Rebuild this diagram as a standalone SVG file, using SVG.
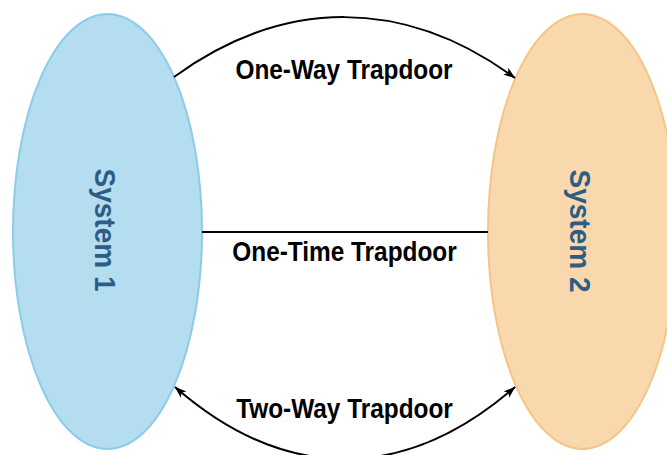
<svg xmlns="http://www.w3.org/2000/svg" width="667" height="455" viewBox="0 0 667 455">
  <style>
    .lbl { font-family: "Liberation Sans", Arial, sans-serif; font-weight: bold; font-size: 24.4px; fill: #000; text-anchor: middle; }
    .sys { font-family: "Liberation Sans", Arial, sans-serif; font-weight: bold; font-size: 28px; fill: #2c5d86; text-anchor: middle; }
    .edge { fill: none; stroke: #000; stroke-width: 2; }
  </style>
  <defs>
    <marker id="arrow" markerUnits="userSpaceOnUse" viewBox="0 0 12 10" markerWidth="12" markerHeight="10" refX="11.5" refY="5" orient="auto-start-reverse">
      <path d="M0,0.8 L12,5 L0,9.2 L3,5 Z" fill="#000"/>
    </marker>
  </defs>
  <rect width="667" height="455" fill="#fff"/>
  <g id="system1">
    <ellipse cx="107.5" cy="231.5" rx="94.5" ry="217.5" fill="#b5ddf0" stroke="#8ccbea" stroke-width="2"/>
    <text class="sys" transform="translate(95,230) rotate(90) scale(1,1.08)">System 1</text>
  </g>
  <g id="system2">
    <ellipse cx="582.5" cy="231.5" rx="94.5" ry="217.5" fill="#f9d8ae" stroke="#f5c585" stroke-width="2"/>
    <text class="sys" transform="translate(570,231) rotate(90) scale(1,1.08)">System 2</text>
  </g>
  <g id="connectors">
    <path class="edge" d="M174,77 C284,-3 405,-3 515,78" marker-end="url(#arrow)"/>
    <path class="edge" d="M202,232 L488,232"/>
    <path class="edge" d="M175,387 C285,483 405,483 515,387" marker-start="url(#arrow)" marker-end="url(#arrow)"/>
  </g>
  <g id="labels">
    <text class="lbl" transform="translate(344,79) scale(1,1.1)">One-Way Trapdoor</text>
    <text class="lbl" transform="translate(344.5,261) scale(1,1.1)">One-Time Trapdoor</text>
    <text class="lbl" transform="translate(344.5,418) scale(1,1.1)">Two-Way Trapdoor</text>
  </g>
</svg>
